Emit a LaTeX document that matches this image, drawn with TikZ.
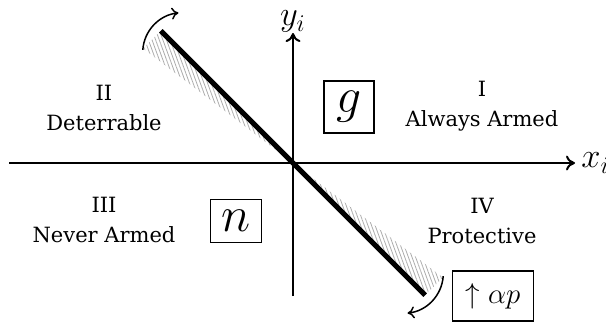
\documentclass[tikz,border=0pt]{standalone}
\usepackage{fontspec}
\setmainfont{DejaVu Serif}
\usetikzlibrary{arrows.meta,calc,patterns.meta}
\tikzset{
 axis/.style={line width=1pt, -{To[length=4.5pt,width=7.5pt]}},
 axislabel/.style={font=\fontsize{16.5}{19}\selectfont, inner sep=1pt},
 boundary/.style={line width=2.5pt},
 swing/.style={line width=0.75pt, -{To[length=3.5pt,width=6pt]}},
 hatch/.style={pattern={Lines[angle=110,distance=1.7pt,line width=0.4pt]}, pattern color=gray!65},
 quadrant/.style={align=center, font=\fontsize{10.5}{15}\selectfont},
 tag/.style={draw, line width=0.6pt, inner sep=2pt, font=\fontsize{25}{28}\selectfont}
}
\begin{document}
\begin{tikzpicture}[x=0.5pt,y=0.5pt]
\useasboundingbox (0,0) rectangle (606,328);
\coordinate (O) at (293,165);
\coordinate (xl) at (9,165);
\coordinate (xr) at (575,165);
\coordinate (yb) at (293,32);
\coordinate (yt) at (293,295);
\coordinate (top) at ($(O)+(135:187)$);
\coordinate (bot) at ($(O)+(-45:187)$);
\coordinate (topfan) at ($(top)+(225:25)$);
\coordinate (botfan) at ($(bot)+(45:25)$);
\coordinate (topturn) at ($(O)+(135:156)$);
\coordinate (botturn) at ($(O)+(-45:156)$);
% hatched wedges behind the boundary
\path[hatch] (top) -- (O) -- (topfan) -- cycle;
\path[hatch] (bot) -- (O) -- (botfan) -- cycle;
% axes
\draw[axis] (xl) -- (xr);
\draw[axis] (yb) -- (yt);
\node[axislabel,right=2pt] (xlab) at (xr) {$x_i$};
\node[axislabel,above=-1pt] (ylab) at (yt) {$y_i$};
% boundary and its rotation
\draw[boundary] (top) -- (bot);
\draw[swing] ($(topturn)+(176:40)$) arc[start angle=176,end angle=96,radius=40];
\draw[swing] ($(botturn)+(-4:40)$) arc[start angle=-4,end angle=-84,radius=40];
% quadrants
\node[quadrant] (q1) at (482,222) {I\\Always Armed};
\node[quadrant] (q2) at (104,220) {II\\Deterrable};
\node[quadrant] (q3) at (104,108) {III\\Never Armed};
\node[quadrant] (q4) at (482,107) {IV\\Protective};
% tags
\node[tag,minimum width=25pt,minimum height=26pt] (g) at (349,221) {$g$};
\node[tag,minimum width=25.5pt,minimum height=21.5pt] (n) at (236,107) {$n$};
\node[tag,minimum width=40.5pt,minimum height=25pt,font=\fontsize{15}{18}\selectfont] (ap) at (493,32) {$\uparrow\alpha p$};
\end{tikzpicture}
\end{document}
